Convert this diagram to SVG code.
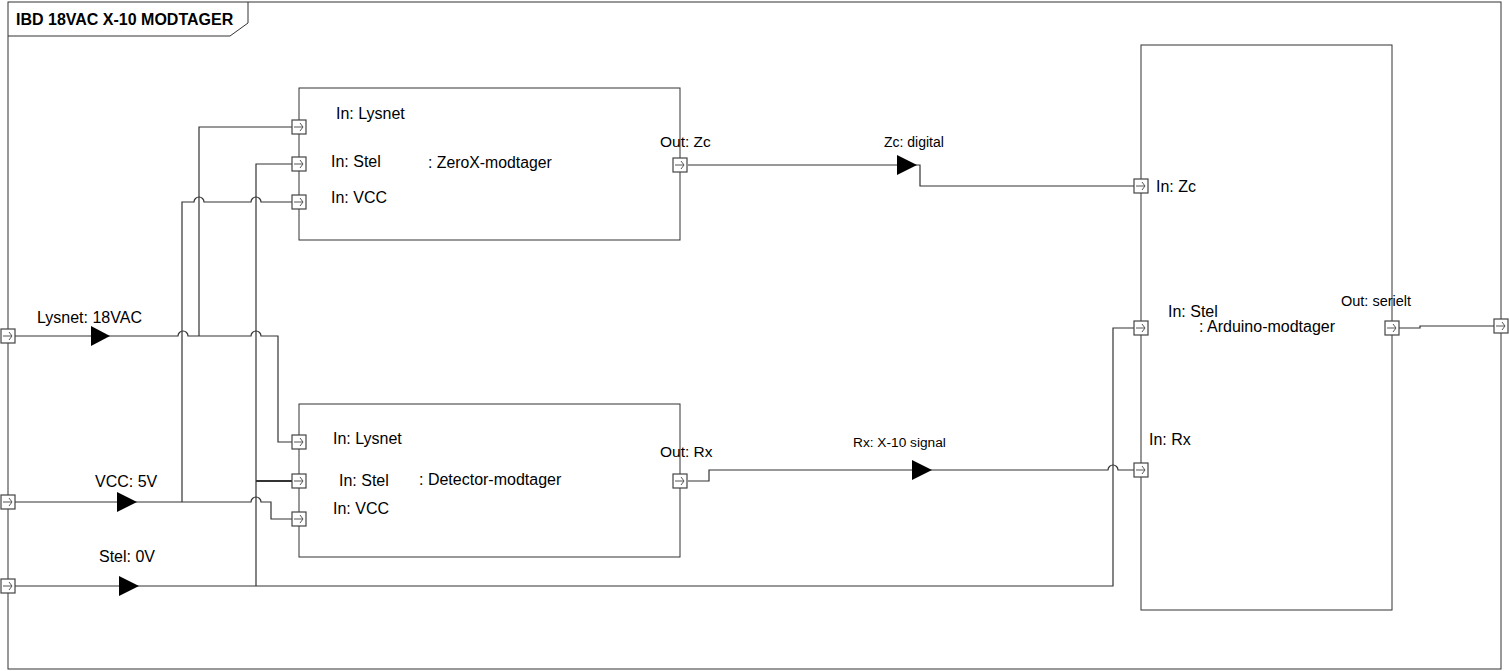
<svg xmlns="http://www.w3.org/2000/svg" width="1509" height="671" viewBox="0 0 1509 671">
<style>
  .frame{fill:none;stroke:#333;stroke-width:1}
  .blk{fill:#fff;stroke:#333;stroke-width:1}
  .wire{fill:none;stroke:#333;stroke-width:1.2}
  .tri{fill:#000}
  .pbox{fill:#fff;stroke:#444;stroke-width:1.2}
  .parr{fill:none;stroke:#555;stroke-width:1}
  text{font-family:"Liberation Sans",Arial,sans-serif;fill:#000}
  .t16{font-size:16px}
  .title{font-size:16px;font-weight:bold}
  .c{font-size:14px}
</style>
<defs>
  <g id="p">
    <rect class="pbox" x="-7" y="-7" width="14" height="14"/>
    <path class="parr" d="M-5,0 H4 M1,-4 L4,0 L1,4"/>
  </g>
</defs>
<rect width="1509" height="671" fill="#fff"/>
<g id="frame">
  <rect class="frame" x="8" y="2" width="1493" height="667"/>
  <path class="frame" d="M248,2 V23 L230,36 H8"/>
  <text class="title" x="16" y="25">IBD 18VAC X-10 MODTAGER</text>
</g>
<g id="connectors">
  <path class="wire" d="M15,336 H178 a5,5 0 0 1 10,0 H251 a5,5 0 0 1 10,0 H278 V442 H292"/>
  <path class="wire" d="M199,336 V127 H292"/>
  <path class="wire" d="M15,502 H251 a5,5 0 0 1 10,0 H271 V519 H292"/>
  <path class="wire" d="M182,502 V202 H194 a5,5 0 0 1 10,0 H251 a5,5 0 0 1 10,0 H292"/>
  <path class="wire" d="M15,586 H1113 V328 H1134"/>
  <path class="wire" d="M256,586 V164 H292"/>
  <path class="wire" d="M256,481 H292" style="stroke-width:1.8"/>
  <path class="wire" d="M688,165 H920 V186 H1134"/>
  <path class="wire" d="M688,481 H709 V470 H1108 a5,5 0 0 1 10,0 H1134"/>
  <path class="wire" d="M1399,328 H1420 V326 H1494"/>
  <path class="tri" d="M91,326 L110,336 L91,346 Z"/>
  <path class="tri" d="M117,492 L137,502 L117,512 Z"/>
  <path class="tri" d="M119,576 L139,586 L119,596 Z"/>
  <path class="tri" d="M897,155 L917,165 L897,175 Z"/>
  <path class="tri" d="M912,460 L932,470 L912,480 Z"/>
  <text class="t16" x="37" y="323">Lysnet: 18VAC</text>
  <text class="t16" x="95" y="487">VCC: 5V</text>
  <text class="t16" x="99" y="562">Stel: 0V</text>
  <text class="c" x="884" y="147">Zc: digital</text>
  <text class="c" x="853" y="447" style="font-size:13.7px">Rx: X-10 signal</text>
</g>
<g id="boundary-ports">
  <use href="#p" x="8" y="336"/>
  <use href="#p" x="8" y="502"/>
  <use href="#p" x="8" y="586"/>
  <use href="#p" x="1501" y="326"/>
</g>
<g id="zerox">
  <rect class="blk" x="299" y="88" width="381" height="152"/>
  <use href="#p" x="299" y="127"/>
  <use href="#p" x="299" y="164"/>
  <use href="#p" x="299" y="202"/>
  <use href="#p" x="680" y="165"/>
  <text class="t16" x="336" y="119">In: Lysnet</text>
  <text class="t16" x="331" y="167">In: Stel</text>
  <text class="t16" x="331" y="203">In: VCC</text>
  <text class="t16" x="428" y="168" style="font-size:15.8px">: ZeroX-modtager</text>
  <text class="c" x="660" y="147" style="font-size:15.5px">Out: Zc</text>
</g>
<g id="detector">
  <rect class="blk" x="299" y="404" width="381" height="153"/>
  <use href="#p" x="299" y="442"/>
  <use href="#p" x="299" y="481"/>
  <use href="#p" x="299" y="519"/>
  <use href="#p" x="680" y="481"/>
  <text class="t16" x="333" y="444">In: Lysnet</text>
  <text class="t16" x="339" y="486">In: Stel</text>
  <text class="t16" x="333" y="514">In: VCC</text>
  <text class="t16" x="419" y="485">: Detector-modtager</text>
  <text class="c" x="660" y="457" style="font-size:15.5px">Out: Rx</text>
</g>
<g id="arduino">
  <rect class="blk" x="1141" y="45" width="251" height="565"/>
  <use href="#p" x="1141" y="186"/>
  <use href="#p" x="1141" y="328"/>
  <use href="#p" x="1141" y="470"/>
  <use href="#p" x="1392" y="328"/>
  <text class="t16" x="1156" y="192">In: Zc</text>
  <text class="t16" x="1168" y="317">In: Stel</text>
  <text class="t16" x="1199" y="332">: Arduino-modtager</text>
  <text class="t16" x="1149" y="445">In: Rx</text>
  <text class="c" x="1341" y="306" style="font-size:14.5px">Out: serielt</text>
</g>
</svg>
